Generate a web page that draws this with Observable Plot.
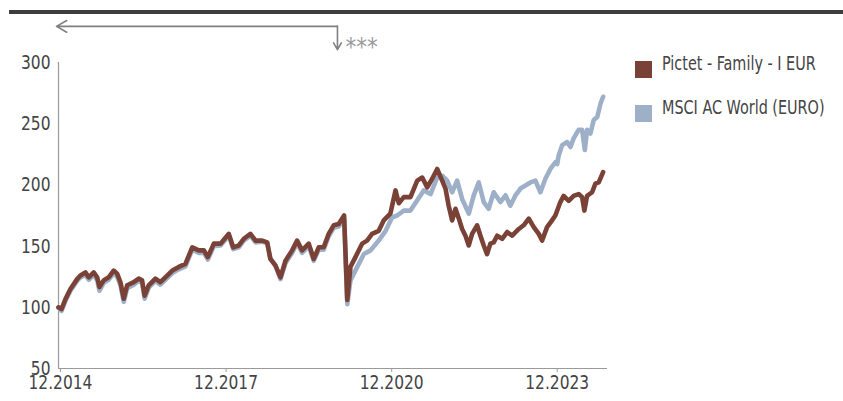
<!DOCTYPE html>
<html>
<head>
<meta charset="utf-8">
<script src="https://cdn.jsdelivr.net/npm/d3@7"></script>
<script src="https://cdn.jsdelivr.net/npm/@observablehq/plot@0.6"></script>
<style>
  html, body { margin: 0; padding: 0; background: #fff; }
  #wrap { position: relative; width: 843px; height: 401px; overflow: hidden;
          font-family: 'Liberation Sans Narrow', 'Arial Narrow', 'DejaVu Sans Condensed', sans-serif; }
  #topbar { position: absolute; left: 9px; top: 10px; width: 834px; height: 4px; background: #3d3d3d; }
  #legend { position: absolute; left: 635px; top: 52px; color: #444; font-size: 20px; }
  .item { display: flex; align-items: center; height: 22px; margin-bottom: 22px; white-space: nowrap; }
  .sw { width: 17px; height: 17px; margin-right: 10px; margin-top: 12px; flex: none; }
  .lbl { display: inline-block; transform: scaleX(0.8); transform-origin: 0 50%; }
  #chart svg { display: block; }
</style>
</head>
<body>
<div id="wrap">
  <div id="chart"></div>
  <div id="topbar"></div>
  <div id="legend"></div>
</div>
<script>
// ---- series names & colours
const seriesNames = ["Pictet - Family - I EUR", "MSCI AC World (EURO)"];
const seriesColors = ["#7a4237", "#9eb0c8"];

// ---- Pictet - Family - I EUR
const pictetDates = [
 "2014-12-18","2015-01-07","2015-02-03","2015-03-07","2015-04-20","2015-05-12","2015-06-14","2015-07-06",
 "2015-08-08","2015-08-31","2015-09-15","2015-10-13","2015-11-15","2015-12-18","2016-01-10","2016-02-01",
 "2016-02-23","2016-03-16","2016-04-29","2016-06-01","2016-06-23","2016-07-10","2016-08-06","2016-09-19",
 "2016-10-22","2016-11-24","2017-01-09","2017-02-21","2017-04-06","2017-05-21","2017-07-03","2017-08-06",
 "2017-09-01","2017-10-11","2017-11-24","2018-01-18","2018-02-16","2018-03-25","2018-04-27","2018-06-10",
 "2018-07-14","2018-08-27","2018-09-29","2018-10-20","2018-11-23","2018-12-26","2019-01-28","2019-03-13",
 "2019-04-15","2019-05-18","2019-07-01","2019-08-03","2019-09-05","2019-10-08","2019-11-10","2019-12-13",
 "2020-01-15","2020-02-20","2020-03-12","2020-04-02","2020-05-05","2020-06-18","2020-07-21","2020-08-23",
 "2020-10-06","2020-11-08","2020-12-22","2021-01-25","2021-02-16","2021-03-21","2021-05-04","2021-06-18",
 "2021-07-21","2021-08-23","2021-09-25","2021-10-28","2021-11-30","2021-12-22","2022-01-12","2022-02-04",
 "2022-02-26","2022-03-20","2022-04-11","2022-05-03","2022-05-25","2022-06-16","2022-07-19","2022-08-10",
 "2022-09-01","2022-09-23","2022-10-15","2022-11-06","2022-11-29","2023-01-01","2023-02-03","2023-03-08",
 "2023-04-21","2023-05-23","2023-06-26","2023-07-29","2023-08-31","2023-09-22","2023-10-25","2023-11-27",
 "2023-12-19","2024-01-21","2024-02-12","2024-03-16","2024-04-18","2024-05-21","2024-06-13","2024-06-28",
 "2024-07-16","2024-08-18","2024-09-09","2024-10-01","2024-10-30"
];
const pictetValues = [
 100, 98.5, 107, 115, 123, 126, 128.5, 124.5,
 128.5, 124.5, 116.5, 122, 124.5, 130, 127.5, 120.5,
 107, 118, 120.5, 123.5, 122, 109.5, 118, 123.5,
 120.5, 124.5, 130, 133, 135.5, 149, 146.5, 146.5,
 141, 152, 152, 160, 149, 150.5, 156, 160,
 154.5, 154.5, 153, 139.5, 134, 124.5, 138, 146.5,
 154.5, 146.5, 152, 139.5, 149, 149, 160, 167,
 168, 175, 106, 133, 141, 152, 154.5, 160,
 162.5, 171, 176.5, 195.5, 185, 190, 190, 203.5,
 206, 198, 205, 213, 203.5, 197, 183, 171,
 180.5, 172.5, 164, 158.5, 150.5, 160, 167, 158.5,
 150.5, 143.5, 152, 153, 158.5, 156, 161.5, 158.5,
 164, 167, 172.5, 165.5, 160, 154.5, 165.5, 171,
 175, 186, 191, 187, 191, 192.5, 190, 179,
 191, 194, 201, 202, 210.5
];

// ---- MSCI AC World (EURO)
const msciDates = [
 "2014-12-18","2015-01-07","2015-02-03","2015-03-07","2015-04-20","2015-05-12","2015-06-14","2015-07-06",
 "2015-08-08","2015-08-31","2015-09-15","2015-10-13","2015-11-15","2015-12-18","2016-01-10","2016-02-01",
 "2016-02-23","2016-03-16","2016-04-29","2016-06-01","2016-06-23","2016-07-10","2016-08-06","2016-09-19",
 "2016-10-22","2016-11-24","2017-01-09","2017-02-21","2017-04-06","2017-05-21","2017-07-03","2017-08-06",
 "2017-09-01","2017-10-11","2017-11-24","2018-01-18","2018-02-16","2018-03-25","2018-04-27","2018-06-10",
 "2018-07-14","2018-08-27","2018-09-29","2018-10-20","2018-11-23","2018-12-26","2019-01-28","2019-03-13",
 "2019-04-15","2019-05-18","2019-07-01","2019-08-03","2019-09-05","2019-10-08","2019-11-10","2019-12-13",
 "2020-01-15","2020-02-20","2020-03-12","2020-04-02","2020-05-17","2020-06-30","2020-08-13","2020-10-06",
 "2020-11-21","2021-01-03","2021-02-05","2021-03-21","2021-05-04","2021-06-18","2021-07-31","2021-09-14",
 "2021-10-28","2021-11-30","2022-01-02","2022-02-04","2022-03-09","2022-04-11","2022-05-25","2022-06-27",
 "2022-07-30","2022-09-01","2022-10-04","2022-11-06","2022-12-20","2023-01-23","2023-02-24","2023-03-30",
 "2023-05-02","2023-06-04","2023-07-07","2023-08-09","2023-09-11","2023-10-14","2023-11-16","2023-12-19",
 "2023-12-31","2024-01-10","2024-02-02","2024-03-06","2024-03-28","2024-04-18","2024-05-21","2024-06-13",
 "2024-07-01","2024-07-16","2024-08-07","2024-08-29","2024-09-21","2024-10-13","2024-10-30"
];
const msciValues = [
 99.5, 97, 105.5, 113.5, 121.5, 124.5, 126.5, 122.5,
 126.5, 122, 113.5, 120, 122.5, 128, 125, 118,
 104.5, 115.5, 118.5, 121.5, 120, 107, 116, 121.5,
 118.5, 122.5, 128, 131, 133.5, 147, 144.5, 144.5,
 139, 150, 150.5, 158.5, 147.5, 149, 154.5, 158.5,
 153, 153.5, 152.5, 140, 134, 123, 136, 144.5,
 152.5, 144.5, 150, 138, 147, 147, 158, 165,
 166, 172, 102.5, 122, 133, 143.5, 146.5, 154.5,
 162.5, 173.5, 175, 179, 179, 187.5, 195.5, 192.5,
 206, 207.5, 203.5, 194, 203.5, 188.5, 176.5, 191.5,
 202, 186, 180.5, 194, 186, 191.5, 183, 191.5,
 197, 199.5, 202, 203.5, 194, 205, 213, 218.5,
 217, 224, 232.5, 235, 231, 238, 245, 245,
 228.5, 245, 242, 253, 255.5, 266.5, 272
];

// ---- axes
const yTicks = [50, 100, 150, 200, 250, 300];
const yDomain = [50, 300];
const xDomain = ["2014-12-18", "2024-11-28"];
const xTickDates = ["2014-12-31", "2017-12-31", "2020-12-31", "2023-12-31"];
const xTickLabels = ["12.2014", "12.2017", "12.2020", "12.2023"];

// ---- annotation (period arrow, "***")
const noteStart = "2014-12-05";
const noteEnd = "2020-01-07";
const noteLevel = 329.5;
const noteArrowTo = 310.5;
const noteText = "***";

const parse = d3.isoParse;
const pictetRows = pictetDates.map((d, i) => ({series: seriesNames[0], date: parse(d), value: pictetValues[i]}));
const msciRows = msciDates.map((d, i) => ({series: seriesNames[1], date: parse(d), value: msciValues[i]}));
const xTicks = xTickDates.map(parse);

const font = "'Liberation Sans Narrow', 'Arial Narrow', 'DejaVu Sans Condensed', sans-serif";

const chart = Plot.plot({
  width: 843,
  height: 401,
  marginLeft: 58,
  marginRight: 236,
  marginTop: 62,
  marginBottom: 33,
  style: {fontFamily: font, fontSize: "20px", color: "#444", background: "transparent", overflow: "visible"},
  x: {type: "utc", domain: xDomain.map(parse), label: null},
  y: {domain: yDomain, label: null},
  marks: [
    Plot.axisY(yTicks, {tickSize: 0, tickPadding: 8, fontSize: 20, fill: "#444", label: null}),
    Plot.axisX(xTicks, {
      tickSize: 4, tickPadding: 2, fontSize: 20, stroke: "#999", fill: "#444", label: null,
      tickFormat: (d) => xTickLabels[xTicks.findIndex(t => +t === +d)]
    }),
    Plot.ruleX([parse(xDomain[0])], {y1: yDomain[0], y2: yDomain[1], stroke: "#9a9a9a", strokeWidth: 1.2}),
    Plot.ruleY([yDomain[0]], {stroke: "#9a9a9a", strokeWidth: 1.2}),
    Plot.line(msciRows, {x: "date", y: "value", stroke: seriesColors[1], strokeWidth: 4.6, strokeLinejoin: "round"}),
    Plot.line(pictetRows, {x: "date", y: "value", stroke: seriesColors[0], strokeWidth: 4.6, strokeLinejoin: "round"}),
    Plot.arrow([{}], {x1: parse(noteEnd), y1: noteLevel, x2: parse(noteStart), y2: noteLevel,
      stroke: "#808080", strokeWidth: 1.6, headLength: 11, bend: 0}),
    Plot.arrow([{}], {x1: parse(noteEnd), y1: noteLevel, x2: parse(noteEnd), y2: noteArrowTo,
      stroke: "#808080", strokeWidth: 1.6, headLength: 11, bend: 0}),
    Plot.text([noteText], {x: parse(noteEnd), y: noteArrowTo + 2, text: d => d, dx: 8,
      textAnchor: "start", fill: "#999", fontSize: 24})
  ]
});

// narrow the axis tick labels to mimic the condensed typeface of the original
chart.querySelectorAll('g[aria-label$="tick label"] text').forEach(t => {
  const tr = t.getAttribute("transform");
  if (tr) t.setAttribute("transform", tr + " scale(0.86,1)");
  else {
    const x = +t.getAttribute("x") || 0;
    t.setAttribute("transform", `translate(${x},0) scale(0.86,1) translate(${-x},0)`);
  }
});

document.getElementById("chart").appendChild(chart);

const legend = document.getElementById("legend");
seriesNames.forEach((name, i) => {
  const item = document.createElement("div");
  item.className = "item";
  const sw = document.createElement("div");
  sw.className = "sw";
  sw.style.background = seriesColors[i];
  const label = document.createElement("span");
  label.className = "lbl";
  label.textContent = name;
  item.appendChild(sw);
  item.appendChild(label);
  legend.appendChild(item);
});
</script>
</body>
</html>
